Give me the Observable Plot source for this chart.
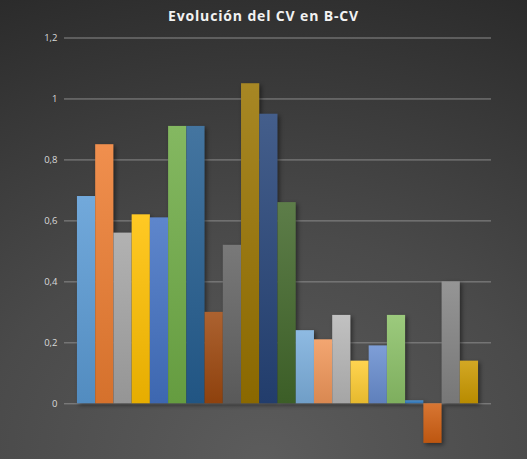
<!DOCTYPE html>
<html>
<head>
<meta charset="utf-8">
<script src="https://cdn.jsdelivr.net/npm/d3@7"></script>
<script src="https://cdn.jsdelivr.net/npm/@observablehq/plot@0.6"></script>
<style>
  html, body { margin: 0; padding: 0; }
  body { width: 527px; height: 459px; overflow: hidden;
    background: radial-gradient(ellipse 120% 110% at 50% 100%, #5c5c5c 0%, #4a4a4a 45%, #2b2b2b 100%);
    font-family: "Open Sans", "Segoe UI", sans-serif; }
  #title { height: 30px; line-height: 32px; text-align: center; color: #f2f2f2;
    font-weight: bold; font-size: 14px; letter-spacing: 0.85px; }
  #chart svg { display: block; background: transparent; }
  #chart g[aria-label="bar"] { filter: drop-shadow(2px 2px 2px rgba(0,0,0,0.45)); }
</style>
</head>
<body>
<div id="title">Evolución del CV en B-CV</div>
<div id="chart"></div>
<script>
const series = ["S1","S2","S3","S4","S5","S6","S7","S8","S9","S10","S11","S12","S13","S14","S15","S16","S17","S18","S19","S20","S21","S22"];
const values = [0.68,0.85,0.56,0.62,0.61,0.91,0.91,0.30,0.52,1.05,0.95,0.66,0.24,0.21,0.29,0.14,0.19,0.29,0.01,-0.13,0.40,0.14];
const colors = ["#5B9BD5","#ED7D31","#A5A5A5","#FFC000","#4472C4","#70AD47",
                "#255E91","#9E480E","#636363","#997300","#264478","#43682B",
                "#7CAFDD","#F1975A","#B7B7B7","#FFCD33","#698ED0","#8CC168",
                "#327DC2","#D26012","#848484","#CC9A00"];
const yTicks = [0,0.2,0.4,0.6,0.8,1,1.2];

const data = series.map((s, i) => ({s, v: values[i], c: colors[i], g: `url(#grad${i})`}));

const plot = Plot.plot({
  width: 527,
  height: 429,
  marginLeft: 64,
  marginRight: 36,
  marginTop: 7.5,
  marginBottom: 55.7,
  style: {background: "transparent", color: "#d9d9d9", fontSize: "9.5px", fontFamily: "'Open Sans', sans-serif"},
  x: {domain: series, paddingInner: 0, paddingOuter: 0.71, round: false, axis: null},
  y: {domain: [0, 1.2], ticks: yTicks, tickFormat: d => String(d).replace(".", ","), tickSize: 0, tickPadding: 7, label: null},
  color: {type: "identity"},
  marks: [
    Plot.ruleY(yTicks, {stroke: "#8a8a8a", strokeWidth: 1}),
    Plot.barY(data, {x: "s", y: "v", fill: "g", inset: 0})
  ]
});

const svg = plot;
const defs = document.createElementNS("http://www.w3.org/2000/svg", "defs");
colors.forEach((c, i) => {
  const lg = document.createElementNS("http://www.w3.org/2000/svg", "linearGradient");
  lg.setAttribute("id", `grad${i}`);
  lg.setAttribute("x1", "0"); lg.setAttribute("y1", "0");
  lg.setAttribute("x2", "0"); lg.setAttribute("y2", "1");
  const top = d3.interpolateRgb(c, "#ffffff")(0.14);
  const bot = d3.interpolateRgb(c, "#000000")(0.1);
  [[0, top], [1, bot]].forEach(([o, col]) => {
    const st = document.createElementNS("http://www.w3.org/2000/svg", "stop");
    st.setAttribute("offset", o);
    st.setAttribute("stop-color", col);
    lg.appendChild(st);
  });
  defs.appendChild(lg);
});
svg.insertBefore(defs, svg.firstChild);
document.getElementById("chart").appendChild(plot);
</script>
</body>
</html>
